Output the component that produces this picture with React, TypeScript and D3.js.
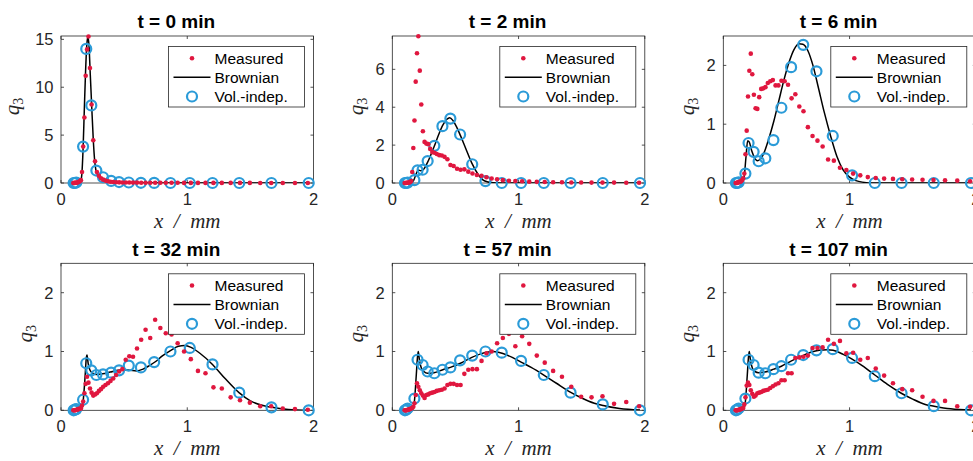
import React from 'react';
import * as d3 from 'd3';

// ---------- data ----------
const measuredX = [0.0975, 0.1029, 0.1085, 0.1145, 0.1208, 0.1274, 0.1344, 0.1418, 0.1496, 0.1579, 0.1665, 0.1757, 0.1854, 0.1956, 0.2063, 0.2177, 0.2296, 0.2423, 0.2556, 0.2697, 0.2845, 0.3001, 0.3166, 0.334, 0.3524, 0.3718, 0.3923, 0.4138, 0.4366, 0.4606, 0.4859, 0.5127, 0.5409, 0.5706, 0.602, 0.6351, 0.67, 0.7069, 0.7458, 0.7868, 0.83, 0.8757, 0.9239, 0.9747, 1.0283, 1.0848, 1.1445, 1.2075, 1.2739, 1.3439, 1.4178, 1.4958, 1.5781, 1.6649, 1.7565, 1.8531, 1.955];

const volX = [0.1, 0.11, 0.121, 0.175, 0.2, 0.24, 0.28, 0.333, 0.397, 0.46, 0.537, 0.633, 0.738, 0.867, 1.02, 1.2, 1.412, 1.667, 1.962];

const titles = ['t = 0 min', 't = 2 min', 't = 6 min', 't = 32 min', 't = 57 min', 't = 107 min'];

const measuredT0 = [0, 0, 0.01, 0.02, 0.03, 0.05, 0.08, 0.12, 0.18, 0.3, 1.15, 3.8, 6.84, 11.2, 13.95, 15.3, 12.0, 8.2, 4.46, 2.27, 1.15, 0.75, 0.5, 0.35, 0.25, 0.18, 0.13, 0.1, 0.08, 0.07, 0.06, 0.05, 0.05, 0.04, 0.04, 0.03, 0.03, 0.03, 0.02, 0.02, 0.02, 0.02, 0.02, 0.01, 0.01, 0.01, 0.01, 0.01, 0.01, 0.01, 0.01, 0.01, 0, 0, 0, 0, 0];
const measuredT2 = [0, 0, 0, 0.01, 0.01, 0.02, 0.03, 0.05, 0.1, 0.58, 1.85, 3.3, 5.35, 6.85, 7.75, 5.93, 4.14, 2.73, 2.17, 2.08, 2.05, 1.8, 1.63, 1.6, 1.53, 1.47, 1.45, 1.38, 1.25, 0.95, 0.9, 0.75, 0.7, 0.72, 0.6, 0.5, 0.42, 0.38, 0.3, 0.24, 0.2, 0.15, 0.12, 0.1, 0.09, 0.07, 0.06, 0.05, 0.04, 0.04, 0.03, 0.03, 0.02, 0.02, 0.02, 0.01, 0.01];
const measuredT6 = [0, 0, 0, 0.01, 0.01, 0.02, 0.02, 0.03, 0.05, 0.08, 0.16, 0.49, 0.89, 1.47, 1.91, 2.2, 1.85, 1.5, 1.27, 1.26, 1.46, 1.6, 1.61, 1.63, 1.7, 1.73, 1.75, 1.66, 1.66, 1.74, 1.73, 1.67, 1.44, 1.51, 1.3, 1.22, 0.95, 0.8, 0.72, 0.62, 0.4, 0.38, 0.26, 0.22, 0.16, 0.13, 0.1, 0.085, 0.075, 0.07, 0.065, 0.06, 0.055, 0.05, 0.045, 0.04, 0.03];
const measuredT32 = [0, 0, 0, 0, 0.01, 0.01, 0.02, 0.02, 0.03, 0.03, 0.08, 0.15, 0.29, 0.45, 0.57, 0.47, 0.37, 0.3, 0.25, 0.27, 0.29, 0.33, 0.36, 0.4, 0.43, 0.46, 0.5, 0.54, 0.6, 0.66, 0.7, 0.86, 0.92, 0.91, 1.05, 1.2, 1.37, 1.23, 1.54, 1.4, 1.31, 1.29, 1.14, 1.0, 0.87, 0.67, 0.63, 0.39, 0.37, 0.22, 0.17, 0.13, 0.07, 0.07, 0.03, 0.02, 0.01];
const measuredT57 = [0, 0, 0, 0, 0.01, 0.01, 0.02, 0.02, 0.03, 0.04, 0.06, 0.12, 0.26, 0.46, 0.4, 0.34, 0.29, 0.25, 0.21, 0.26, 0.27, 0.29, 0.3, 0.31, 0.33, 0.34, 0.35, 0.37, 0.43, 0.45, 0.45, 0.43, 0.43, 0.62, 0.69, 0.7, 0.7, 0.84, 0.97, 1.0, 1.14, 1.23, 1.3, 1.09, 1.26, 1.13, 0.93, 0.81, 0.67, 0.57, 0.4, 0.23, 0.22, 0.24, 0.11, 0.14, 0.07];
const measuredT107 = [0, 0, 0, 0, 0.01, 0.01, 0.02, 0.02, 0.03, 0.04, 0.1, 0.22, 0.42, 0.47, 0.43, 0.34, 0.28, 0.23, 0.25, 0.29, 0.3, 0.31, 0.33, 0.34, 0.35, 0.38, 0.41, 0.44, 0.46, 0.51, 0.51, 0.63, 0.63, 0.89, 0.9, 0.91, 0.93, 1.06, 1.06, 1.07, 1.2, 1.13, 1.18, 0.97, 0.98, 0.86, 0.89, 0.71, 0.59, 0.46, 0.36, 0.34, 0.23, 0.16, 0.16, 0.07, 0.06];

const volT0 = [0, 0, 0.05, 3.8, 14.0, 8.1, 1.3, 0.6, 0.22, 0.1, 0.05, 0.02, 0.01, 0, 0, 0, 0, 0, 0];
const volT2 = [0, 0, 0.02, 0.15, 0.67, 0.7, 1.16, 1.96, 3.0, 3.4, 2.56, 0.99, 0.1, 0, 0, 0, 0, 0, 0];
const volT6 = [0, 0, 0.01, 0.16, 0.68, 0.53, 0.37, 0.42, 0.73, 1.28, 1.97, 2.35, 1.9, 0.8, 0.13, 0, 0, 0, 0];
const volT32 = [0, 0.01, 0.02, 0.18, 0.8, 0.68, 0.6, 0.61, 0.64, 0.68, 0.76, 0.73, 0.82, 1.0, 1.06, 0.78, 0.3, 0.05, 0];
const volT57 = [0, 0.01, 0.03, 0.2, 0.86, 0.77, 0.66, 0.63, 0.69, 0.73, 0.85, 0.93, 1.0, 0.98, 0.84, 0.6, 0.3, 0.1, 0];
const volT107 = [0, 0.01, 0.03, 0.2, 0.86, 0.77, 0.64, 0.63, 0.7, 0.75, 0.86, 0.94, 1.02, 1.04, 0.89, 0.58, 0.29, 0.07, 0];

const brownXT0 = [0.1, 0.14, 0.155, 0.165, 0.175, 0.185, 0.195, 0.205, 0.213, 0.222, 0.232, 0.243, 0.255, 0.265, 0.277, 0.29, 0.31, 0.333, 0.36, 0.4, 0.46, 0.54, 0.64, 0.8, 1.0, 1.962];
const brownYT0 = [0, 0.01, 0.15, 0.9, 3.6, 7.8, 11.8, 14.5, 15.3, 14.3, 11.3, 8.1, 4.7, 2.6, 1.3, 0.85, 0.6, 0.45, 0.32, 0.2, 0.1, 0.05, 0.02, 0.005, 0, 0];
const brownXT2 = [0.1, 0.15, 0.17, 0.19, 0.205, 0.225, 0.245, 0.28, 0.33, 0.37, 0.4, 0.43, 0.455, 0.48, 0.51, 0.54, 0.58, 0.63, 0.68, 0.72, 0.76, 0.8, 0.9, 1.962];
const brownYT2 = [0, 0.02, 0.15, 0.5, 0.68, 0.65, 0.7, 1.1, 1.9, 2.6, 3.05, 3.35, 3.45, 3.3, 2.95, 2.5, 1.85, 1.05, 0.45, 0.15, 0.05, 0.01, 0, 0];
const brownXT6 = [0.1, 0.15, 0.165, 0.18, 0.193, 0.205, 0.225, 0.25, 0.27, 0.29, 0.32, 0.36, 0.4, 0.44, 0.48, 0.52, 0.56, 0.6, 0.63, 0.67, 0.71, 0.75, 0.8, 0.85, 0.9, 0.95, 1.0, 1.05, 1.1, 1.2, 1.962];
const brownYT6 = [0, 0.01, 0.1, 0.45, 0.72, 0.7, 0.55, 0.42, 0.38, 0.4, 0.5, 0.75, 1.05, 1.4, 1.75, 2.05, 2.27, 2.37, 2.36, 2.25, 2.0, 1.65, 1.2, 0.8, 0.45, 0.22, 0.1, 0.04, 0.015, 0, 0];
const brownXT32 = [0.1, 0.14, 0.16, 0.175, 0.19, 0.2, 0.206, 0.215, 0.23, 0.25, 0.28, 0.33, 0.39, 0.45, 0.5, 0.55, 0.6, 0.65, 0.7, 0.75, 0.8, 0.87, 0.93, 0.98, 1.03, 1.1, 1.2, 1.3, 1.41, 1.5, 1.6, 1.67, 1.8, 1.962];
const brownYT32 = [0, 0, 0.02, 0.15, 0.55, 0.88, 0.94, 0.8, 0.68, 0.63, 0.61, 0.62, 0.65, 0.68, 0.69, 0.68, 0.67, 0.7, 0.76, 0.83, 0.92, 1.02, 1.09, 1.1, 1.07, 0.97, 0.78, 0.54, 0.3, 0.16, 0.08, 0.05, 0.015, 0];
const brownXT57 = [0.1, 0.14, 0.16, 0.175, 0.19, 0.2, 0.206, 0.215, 0.23, 0.25, 0.28, 0.33, 0.4, 0.46, 0.54, 0.63, 0.7, 0.76, 0.8, 0.87, 0.95, 1.02, 1.1, 1.2, 1.3, 1.41, 1.5, 1.6, 1.67, 1.8, 1.962];
const brownYT57 = [0, 0, 0.02, 0.15, 0.6, 0.92, 1.0, 0.85, 0.72, 0.66, 0.63, 0.64, 0.69, 0.73, 0.8, 0.9, 0.96, 0.99, 1.0, 0.97, 0.9, 0.82, 0.73, 0.6, 0.46, 0.31, 0.21, 0.12, 0.08, 0.03, 0.005];
const brownXT107 = [0.1, 0.14, 0.16, 0.175, 0.19, 0.2, 0.206, 0.215, 0.23, 0.25, 0.28, 0.33, 0.4, 0.46, 0.54, 0.63, 0.7, 0.76, 0.82, 0.87, 0.95, 1.02, 1.1, 1.2, 1.3, 1.41, 1.5, 1.6, 1.67, 1.8, 1.962];
const brownYT107 = [0, 0, 0.02, 0.15, 0.6, 0.92, 1.0, 0.85, 0.72, 0.66, 0.64, 0.65, 0.7, 0.75, 0.84, 0.93, 0.99, 1.02, 1.03, 1.02, 0.95, 0.87, 0.76, 0.6, 0.44, 0.29, 0.19, 0.1, 0.07, 0.025, 0.003];

const yMaxes = [15.35, 7.76, 2.5, 2.5, 2.5, 2.5];
const yTicksT0 = [0, 5, 10, 15];
const yTicksT2 = [0, 2, 4, 6];
const yTicksRest = [0, 1, 2];
const xTicks = [0, 1, 2];
const legendLabels = ['Measured', 'Brownian', 'Vol.-indep.'];

// ---------- style ----------
const RED = '#e0173f';
const BLUE = '#2b9bd8';
const AXIS = '#262626';
const SANS = '"Liberation Sans", Arial, Helvetica, sans-serif';
const SERIF = '"Liberation Serif", "Times New Roman", serif';

const colLeft = [61, 392.3, 723.3];
const rowTop = [36, 263.3];
const PW = 252.5;
const PH = 147;
const DOT_R = 2.3;
const CIRC_R = 5;

const panels = [
  { title: titles[0], meas: measuredT0, vol: volT0, bx: brownXT0, by: brownYT0, yMax: yMaxes[0], yTicks: yTicksT0 },
  { title: titles[1], meas: measuredT2, vol: volT2, bx: brownXT2, by: brownYT2, yMax: yMaxes[1], yTicks: yTicksT2 },
  { title: titles[2], meas: measuredT6, vol: volT6, bx: brownXT6, by: brownYT6, yMax: yMaxes[2], yTicks: yTicksRest },
  { title: titles[3], meas: measuredT32, vol: volT32, bx: brownXT32, by: brownYT32, yMax: yMaxes[3], yTicks: yTicksRest },
  { title: titles[4], meas: measuredT57, vol: volT57, bx: brownXT57, by: brownYT57, yMax: yMaxes[4], yTicks: yTicksRest },
  { title: titles[5], meas: measuredT107, vol: volT107, bx: brownXT107, by: brownYT107, yMax: yMaxes[5], yTicks: yTicksRest },
];

function Panel({ p, idx }: { p: any; idx: number }) {
  const left = colLeft[idx % 3];
  const top = rowTop[Math.floor(idx / 3)];
  const x = d3.scaleLinear().domain([0, 2]).range([left, left + PW]);
  const y = d3.scaleLinear().domain([0, p.yMax]).range([top + PH, top]);
  const pts: [number, number][] = p.bx.map((v: number, i: number) => [v, p.by[i]]);
  const lineGen = d3
    .line<[number, number]>()
    .x((d) => x(d[0]))
    .y((d) => y(d[1]))
    .curve(d3.curveMonotoneX);
  const clipId = `clip${idx}`;
  const twoDigit = p.yTicks.some((t: number) => t >= 10);
  const ylabX = left + (twoDigit ? -42.5 : -29);
  const lx = left + 107.5;
  const ly = top + 10.5;
  const tickLen = 3;
  return (
    <g>
      <defs>
        <clipPath id={clipId}>
          <rect x={left} y={top} width={PW} height={PH} />
        </clipPath>
      </defs>
      {/* axes box */}
      <rect x={left} y={top} width={PW} height={PH} fill="#fff" stroke={AXIS} strokeWidth={0.8} />
      {xTicks.map((t) => (
        <g key={'xt' + t}>
          <line x1={x(t)} x2={x(t)} y1={top + PH} y2={top + PH - tickLen} stroke={AXIS} strokeWidth={0.8} />
          <line x1={x(t)} x2={x(t)} y1={top} y2={top + tickLen} stroke={AXIS} strokeWidth={0.8} />
          <text x={x(t)} y={top + PH + 22} textAnchor="middle" fontFamily={SANS} fontSize={16.5} fill={AXIS}>
            {t}
          </text>
        </g>
      ))}
      {p.yTicks.map((t: number) => (
        <g key={'yt' + t}>
          <line x1={left} x2={left + tickLen} y1={y(t)} y2={y(t)} stroke={AXIS} strokeWidth={0.8} />
          <line x1={left + PW} x2={left + PW - tickLen} y1={y(t)} y2={y(t)} stroke={AXIS} strokeWidth={0.8} />
          <text x={left - 7.5} y={y(t)} dy="0.36em" textAnchor="end" fontFamily={SANS} fontSize={16.5} fill={AXIS}>
            {t}
          </text>
        </g>
      ))}
      {/* data */}
      <path d={lineGen(pts) || ''} fill="none" stroke="#000" strokeWidth={1.5} clipPath={`url(#${clipId})`} />
      {volX.map((v, i) => (
        <circle key={'v' + i} cx={x(v)} cy={y(p.vol[i])} r={CIRC_R} fill="none" stroke={BLUE} strokeWidth={2.2} />
      ))}
      {measuredX.map((v, i) => (
        <circle key={'m' + i} cx={x(v)} cy={y(p.meas[i])} r={DOT_R} fill={RED} />
      ))}
      {/* title */}
      <text x={left + PW / 2 - 11} y={top - 7.7} textAnchor="middle" fontFamily={SANS} fontWeight="bold" fontSize={19} fill="#000">
        {p.title}
      </text>
      {/* x label */}
      <text
        x={left + PW / 2}
        y={top + PH + 44.5}
        textAnchor="middle"
        fontFamily={SERIF}
        fontStyle="italic"
        fontSize={21}
        fill={AXIS}
      >
        {'x\u2002/\u2002mm'}
      </text>
      {/* y label */}
      <text
        transform={`translate(${ylabX},${top + PH / 2 - 3}) rotate(-90)`}
        textAnchor="middle"
        fontFamily={SERIF}
        fontStyle="italic"
        fontSize={21}
        fill={AXIS}
      >
        q
        <tspan fontStyle="normal" fontSize={14} dy={4}>
          3
        </tspan>
      </text>
      {/* legend */}
      <rect x={lx} y={ly} width={136} height={60.5} fill="#fff" stroke={AXIS} strokeWidth={0.8} />
      <circle cx={lx + 23.5} cy={ly + 11.7} r={DOT_R} fill={RED} />
      <line x1={lx + 5} x2={lx + 42} y1={ly + 30.8} y2={ly + 30.8} stroke="#000" strokeWidth={1.5} />
      <circle cx={lx + 23.5} cy={ly + 50} r={CIRC_R} fill="none" stroke={BLUE} strokeWidth={2.2} />
      {legendLabels.map((lab, i) => (
        <text key={lab} x={lx + 46} y={ly + 11.7 + i * 19.2} dy="0.36em" fontFamily={SANS} fontSize={15.5} fill="#000">
          {lab}
        </text>
      ))}
    </g>
  );
}

export default function App() {
  return (
    <svg
      width={973}
      height={461}
      style={{ position: 'absolute', left: 0, top: 0, background: '#fff' }}
      xmlns="http://www.w3.org/2000/svg"
    >
      <rect x={0} y={0} width={973} height={461} fill="#fff" />
      {panels.map((p, i) => (
        <Panel key={i} p={p} idx={i} />
      ))}
    </svg>
  );
}
